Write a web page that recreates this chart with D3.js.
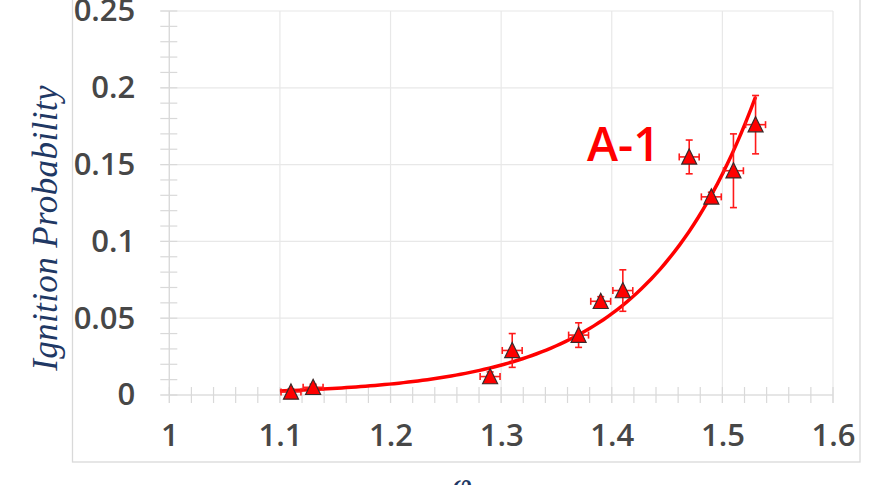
<!DOCTYPE html>
<html>
<head>
<meta charset="utf-8">
<script src="https://cdn.jsdelivr.net/npm/d3@7"></script>
<style>
    body { margin: 0; background: #fff; }
    .tickLabel text { font-family: "Open Sans", sans-serif; font-weight: 600; font-size: 31px; fill: #474747; }
    .grid { stroke: #e8e8e8; stroke-width: 1.2; }
    .minor { stroke: #d9d9d9; stroke-width: 1.2; }
</style>
</head>
<body>
<div id="chartDiv"></div>
<script>
// measured points (A-1 series)
const xVals = [1.11, 1.13, 1.29, 1.31, 1.37, 1.39, 1.41, 1.47, 1.49, 1.51, 1.53]
const yVals = [0.002, 0.005, 0.012, 0.029, 0.039, 0.061, 0.068, 0.155, 0.129, 0.146, 0.176]
const yErr = [0.002, 0.002, 0.003, 0.011, 0.008, 0.003, 0.0135, 0.011, 0.003, 0.024, 0.019]
const xErr = [0.009, 0.009, 0.009, 0.009, 0.009, 0.009, 0.009, 0.009, 0.009, 0.009, 0.009]

// exponential trendline y = A * exp(B * x)
const trendA = 4.4e-8
const trendB = 10
const trendRange = [1.10, 1.53]

const xTicks = [1, 1.1, 1.2, 1.3, 1.4, 1.5, 1.6]
const xTickLabels = ["1", "1.1", "1.2", "1.3", "1.4", "1.5", "1.6"]
const yTicks = [0, 0.05, 0.1, 0.15, 0.2, 0.25]
const yTickLabels = ["0", "0.05", "0.1", "0.15", "0.2", "0.25"]

const width = 886
const height = 485

const svg = d3.select("#chartDiv")
    .append("svg")
    .attr("width", width)
    .attr("height", height)

const x = d3.scaleLinear().domain([1, 1.6]).range([169.3, 833])
const y = d3.scaleLinear().domain([0, 0.25]).range([395, 11])

// outer frame
svg.append("rect")
    .attr("x", 72.5).attr("y", -10)
    .attr("width", 860 - 72.5).attr("height", 462 + 10)
    .attr("fill", "none").attr("stroke", "#d9d9d9").attr("stroke-width", 1.3)

const g = svg.append("g")

// gridlines
g.selectAll("line.vgrid").data(xTicks).enter().append("line")
    .classed("grid", true)
    .attr("x1", d => x(d)).attr("x2", d => x(d))
    .attr("y1", y(0) + 8).attr("y2", y(0.25))
g.selectAll("line.hgrid").data(yTicks).enter().append("line")
    .classed("grid", true)
    .attr("x1", x(1) - 9).attr("x2", x(1.6))
    .attr("y1", d => y(d)).attr("y2", d => y(d))

// axis lines
g.append("line").classed("minor", true)
    .attr("x1", x(1)).attr("x2", x(1)).attr("y1", y(0)).attr("y2", y(0.25))
g.append("line").classed("minor", true)
    .attr("x1", x(1)).attr("x2", x(1.6)).attr("y1", y(0)).attr("y2", y(0))

// minor ticks crossing the axes
const xMinor = d3.range(0, 31).map(i => 1 + i * 0.02)
const yMinor = d3.range(0, 26).map(i => i * 0.01)
g.selectAll("line.xminor").data(xMinor).enter().append("line")
    .classed("minor", true)
    .attr("x1", d => x(d)).attr("x2", d => x(d))
    .attr("y1", y(0) - 8).attr("y2", y(0) + 8)
g.selectAll("line.yminor").data(yMinor).enter().append("line")
    .classed("minor", true)
    .attr("x1", x(1) - 9).attr("x2", x(1) + 8)
    .attr("y1", d => y(d)).attr("y2", d => y(d))

// tick labels
const xAxis = d3.axisBottom(x).tickValues(xTicks).tickSize(0).tickPadding(29)
    .tickFormat((d, i) => xTickLabels[i])
g.append("g").classed("tickLabel", true)
    .attr("transform", `translate(0,${y(0)})`)
    .call(xAxis)
    .call(a => a.select(".domain").remove())

const yAxis = d3.axisLeft(y).tickValues(yTicks).tickSize(0).tickPadding(34)
    .tickFormat((d, i) => yTickLabels[i])
g.append("g").classed("tickLabel", true)
    .attr("transform", `translate(${x(1)},0)`)
    .call(yAxis)
    .call(a => a.select(".domain").remove())

// trendline
const curvePts = d3.range(0, 101).map(i => {
    const xv = trendRange[0] + (trendRange[1] - trendRange[0]) * i / 100
    return [xv, trendA * Math.exp(trendB * xv)]
})
g.append("path")
    .datum(curvePts)
    .attr("fill", "none")
    .attr("stroke", "#ff0000")
    .attr("stroke-width", 3.5)
    .attr("d", d3.line().x(d => x(d[0])).y(d => y(d[1])))

// error bars
const pts = xVals.map((xv, i) => ({ x: xv, y: yVals[i], ex: xErr[i], ey: yErr[i] }))
const cap = 3.5
const eb = g.append("g").attr("stroke", "#ff1a1a").attr("stroke-width", 1.6)
pts.forEach(p => {
    eb.append("line").attr("x1", x(p.x - p.ex)).attr("x2", x(p.x + p.ex)).attr("y1", y(p.y)).attr("y2", y(p.y))
    eb.append("line").attr("x1", x(p.x - p.ex)).attr("x2", x(p.x - p.ex)).attr("y1", y(p.y) - cap).attr("y2", y(p.y) + cap)
    eb.append("line").attr("x1", x(p.x + p.ex)).attr("x2", x(p.x + p.ex)).attr("y1", y(p.y) - cap).attr("y2", y(p.y) + cap)
    eb.append("line").attr("x1", x(p.x)).attr("x2", x(p.x)).attr("y1", y(p.y - p.ey)).attr("y2", y(p.y + p.ey))
    eb.append("line").attr("x1", x(p.x) - cap).attr("x2", x(p.x) + cap).attr("y1", y(p.y - p.ey)).attr("y2", y(p.y - p.ey))
    eb.append("line").attr("x1", x(p.x) - cap).attr("x2", x(p.x) + cap).attr("y1", y(p.y + p.ey)).attr("y2", y(p.y + p.ey))
})

// triangle markers
g.selectAll("path.marker").data(pts).enter().append("path")
    .attr("d", "M0,-8L7.5,7.2L-7.5,7.2Z")
    .attr("transform", d => `translate(${x(d.x)},${y(d.y)})`)
    .attr("fill", "#ff0000")
    .attr("stroke", "#3a2a2a")
    .attr("stroke-width", 1.2)

// series label
svg.append("text")
    .attr("x", 587).attr("y", 161)
    .attr("font-family", "Open Sans, sans-serif")
    .attr("font-weight", 600)
    .attr("font-size", 47)
    .attr("fill", "#ff0000")
    .text("A-1")

// axis titles
svg.append("text")
    .attr("transform", "translate(57,228) rotate(-90)")
    .attr("text-anchor", "middle")
    .attr("font-family", "Liberation Serif, serif")
    .attr("font-style", "italic")
    .attr("font-size", 35)
    .attr("letter-spacing", 0.4)
    .attr("fill", "#1f3864")
    .text("Ignition Probability")

svg.append("text")
    .attr("x", 462).attr("y", 497)
    .attr("text-anchor", "middle")
    .attr("font-family", "Liberation Serif, serif")
    .attr("font-style", "italic")
    .attr("font-size", 36)
    .attr("fill", "#1f3864")
    .text("φ")
</script>
</body>
</html>
